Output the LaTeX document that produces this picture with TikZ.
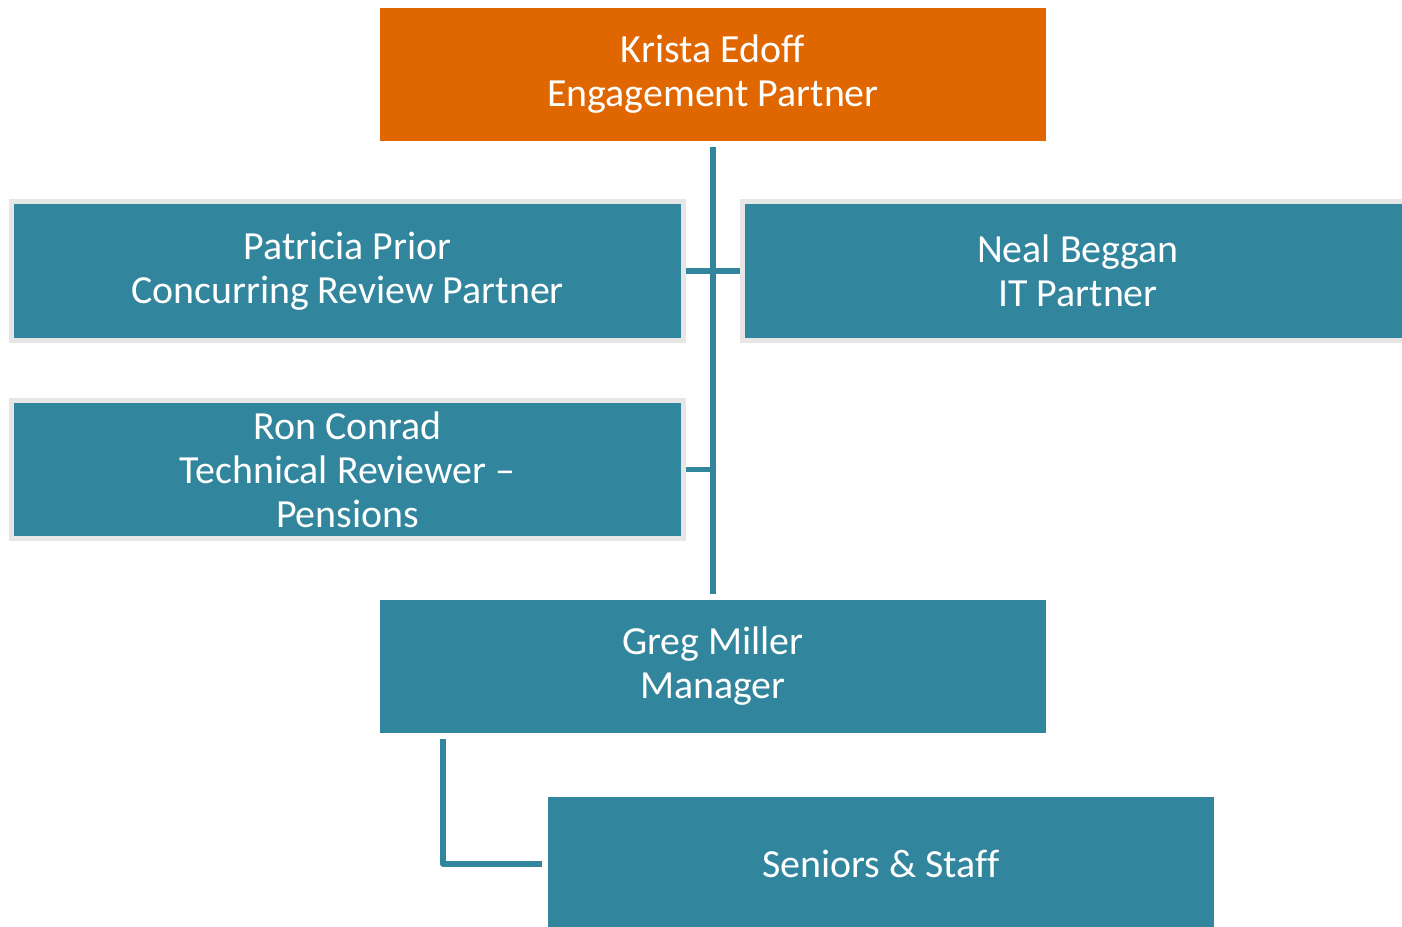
\documentclass[tikz,border=0pt]{standalone}
\usepackage{fontspec}
\setmainfont{Carlito}[Ligatures=CommonOff]
\usetikzlibrary{positioning}

\definecolor{partnerorange}{HTML}{E06600}
\definecolor{staffteal}{HTML}{31859C}
\definecolor{edgegray}{HTML}{E6E6E6}

\begin{document}
\begin{tikzpicture}[
    x=0.02cm, y=-0.02cm,
    font=\fontsize{22.7pt}{25pt}\selectfont,
    role/.style={fill=staffteal, text=white, align=center, inner sep=0pt,
                 minimum width=13.32cm, minimum height=2.66cm},
    lead/.style={role, fill=partnerorange},
    framed/.style={role, draw=edgegray, line width=5*0.5669pt,
                   minimum width=13.44cm, minimum height=2.77cm},
    link/.style={draw=staffteal, line width=6*0.5669pt, line join=round},
]
    \clip (0,0) rectangle (1402,926);

    %==================== partners ====================
    \node[lead] (krista) at (713,74.5) {Krista Edoff\\Engagement Partner};
    \node[framed] (patricia) at (347.5,271) {Patricia Prior\\Concurring Review Partner};
    \node[framed] (neal) at (1078,271) {Neal Beggan\\IT Partner};
    \node[framed] (ron) at (347.5,469.5) {Ron Conrad\\Technical Reviewer –\\Pensions};

    %==================== team ====================
    \node[role] (greg) at (713,666.5) {Greg Miller\\Manager};
    \node[role] (seniors) at (881,863.5) {Seniors \& Staff};

    % reporting lines
    \draw[link, shorten <=6*0.5669pt, shorten >=6*0.5669pt] (krista.south) -- (greg.north);
    \draw[link] (patricia.east) -- (neal.west);
    \draw[link] (ron.east) -- (ron.east -| krista.south);
    \draw[link] ([xshift=1.26cm, yshift=-6*0.5669pt]greg.south west)
        |- ([xshift=-6*0.5669pt]seniors.west);

\end{tikzpicture}
\end{document}
